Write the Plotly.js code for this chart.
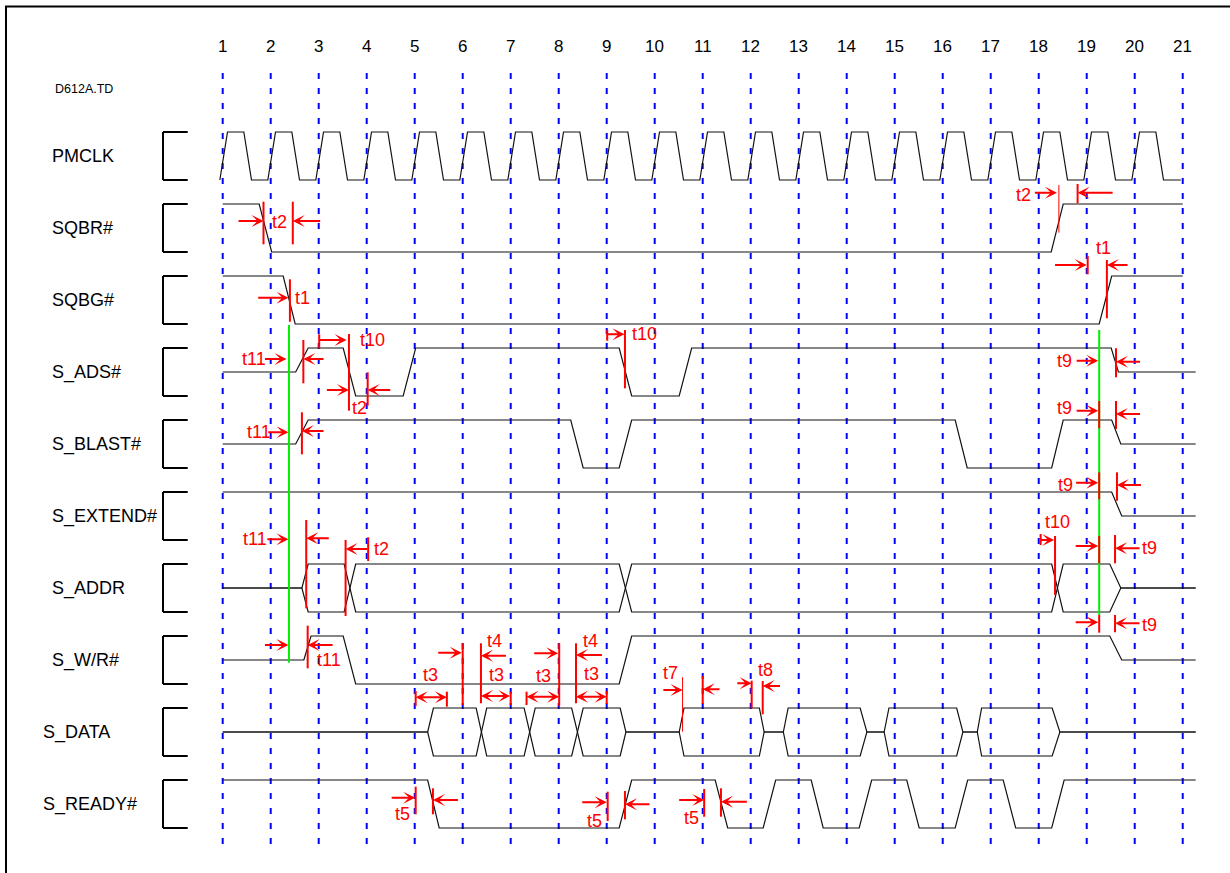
<!DOCTYPE html>
<html>
<head>
<meta charset="utf-8">
<script src="https://cdn.plot.ly/plotly-3.0.1.min.js"></script>
<style>html,body{margin:0;padding:0;background:#fff;}#chart{width:1230px;height:873px;}</style>
</head>
<body>
<div id="chart"></div>
<script>
// ---------- data ----------
const signalNames = ['PMCLK','SQBR#','SQBG#','S_ADS#','S_BLAST#','S_EXTEND#','S_ADDR','S_W/R#','S_DATA','S_READY#'];
const clockTicks  = [1,2,3,4,5,6,7,8,9,10,11,12,13,14,15,16,17,18,19,20,21];
const clockLabels = ['1','2','3','4','5','6','7','8','9','10','11','12','13','14','15','16','17','18','19','20','21'];
const docLabel = 'D612A.TD';

// waveform vertices: time (clock units) and level (1 high, 0 low, 0.5 float)
const pmclkT = [0.94,1.1,1.44,1.6, 1.94,2.1,2.44,2.6, 2.94,3.1,3.44,3.6, 3.94,4.1,4.44,4.6, 4.94,5.1,5.44,5.6,
  5.94,6.1,6.44,6.6, 6.94,7.1,7.44,7.6, 7.94,8.1,8.44,8.6, 8.94,9.1,9.44,9.6, 9.94,10.1,10.44,10.6,
  10.94,11.1,11.44,11.6, 11.94,12.1,12.44,12.6, 12.94,13.1,13.44,13.6, 13.94,14.1,14.44,14.6, 14.94,15.1,15.44,15.6,
  15.94,16.1,16.44,16.6, 16.94,17.1,17.44,17.6, 17.94,18.1,18.44,18.6, 18.94,19.1,19.44,19.6, 19.94,20.1,20.44,20.6, 20.96];
const pmclkL = [0,1,1,0, 0,1,1,0, 0,1,1,0, 0,1,1,0, 0,1,1,0,
  0,1,1,0, 0,1,1,0, 0,1,1,0, 0,1,1,0, 0,1,1,0,
  0,1,1,0, 0,1,1,0, 0,1,1,0, 0,1,1,0, 0,1,1,0,
  0,1,1,0, 0,1,1,0, 0,1,1,0, 0,1,1,0, 0,1,1,0, 0];
const sqbrT = [1,1.76,2.02,18.26,18.51,21];
const sqbrL = [1,1,0,0,1,1];
const sqbgT = [1,2.26,2.51,19.26,19.52,21];
const sqbgL = [1,1,0,0,1,1];
const adsT = [1,2.52,2.78,3.51,3.77,4.76,5.02,9.26,9.52,10.51,10.77,19.51,19.66,21.27];
const adsL = [0.5,0.5,1,1,0,0,1,1,0,0,1,1,0.5,0.5];
const blastT = [1,2.52,2.78,8.25,8.51,9.26,9.52,16.26,16.51,18.27,18.51,19.52,19.71,21.27];
const blastL = [0.5,0.5,1,1,0,0,1,1,0,0,1,1,0.5,0.5];
const extendT = [1,19.52,19.73,21.27];
const extendL = [1,1,0.5,0.5];
const wrT = [1,2.69,2.84,3.51,3.77,9.26,9.52,19.48,19.73,21.27];
const wrL = [0.5,0.5,1,1,0,0,1,1,0.5,0.5];
const readyT = [1,5.27,5.51,9.26,9.52,11.26,11.52,12.26,12.52,13.26,13.51,14.26,14.52,15.25,15.51,16.26,16.52,17.26,17.52,18.27,18.53,21.27];
const readyL = [1,1,0,0,1,1,0,0,1,1,0,0,1,1,0,0,1,1,0,0,1,1];
// buses: one outline edge; the other edge mirrors it
const addrT = [1,2.65,2.78,3.53,3.77,9.26,9.52,18.27,18.51,19.48,19.71,21.27];
const addrL = [0.5,0.5,1,1,0,0,1,1,0,0,0.5,0.5];
const dataT = [1,5.27,5.39,6.28,6.5,7.28,7.51,8.27,8.51,9.28,9.4,10.51,10.61,12.18,12.28,12.68,12.78,14.28,14.42,14.78,14.88,16.29,16.42,16.72,16.81,18.28,18.44,21.27];
const dataL = [0.5,0.5,1,1,0,0,1,1,0,0,0.5,0.5,1,1,0.5,0.5,1,1,0.5,0.5,1,1,0.5,0.5,1,1,0.5,0.5];

// timing markers (time, y from, y to)
const markerLines = [
  [1.85,-0.452,-1.340],[2.46,-0.452,-1.340],[18.42,-0.104,-1.098],[18.81,-0.083,-0.485],
  [2.40,-2.069,-2.952],[19.02,-1.583,-1.965],[19.42,-1.667,-2.881],
  [2.68,-3.333,-4.235],[3.01,-3.215,-3.506],[3.63,-3.208,-4.806],[4.02,-4.006,-4.702],
  [9.01,-3.125,-3.348],[9.38,-3.125,-4.340],[19.61,-3.506,-4.110],
  [2.65,-4.840,-5.715],[19.26,-4.604,-5.173],[19.61,-4.604,-5.188],
  [19.26,-6.090,-6.652],[19.63,-6.090,-6.681],
  [2.74,-7.083,-8.923],[3.56,-7.5,-9.083],[4.03,-7.444,-7.938],[18.04,-7.375,-7.604],
  [18.34,-7.417,-8.646],[19.26,-7.417,-7.985],[19.59,-7.396,-7.985],
  [2.77,-9.285,-10.173],[6.0,-9.652,-10.938],[6.38,-9.652,-10.902],[8.01,-9.652,-10.958],
  [8.36,-9.652,-10.902],[19.26,-9.063,-9.431],[19.59,-9.063,-9.423],
  [5.02,-10.646,-10.958],[5.67,-10.660,-10.973],[7.0,-10.660,-10.938],[7.33,-10.660,-10.938],
  [9.0,-10.646,-10.917],[10.58,-10.360,-11.494],[11.0,-10.333,-10.917],[12.02,-10.431,-11.006],
  [12.25,-10.438,-11.131],
  [5.02,-12.640,-13.215],[5.38,-12.673,-13.215],[9.02,-12.744,-13.354],[9.38,-12.729,-13.319],
  [11.03,-12.688,-13.265],[11.38,-12.673,-13.265]
];
const thinMarkerTimes = [18.42,10.58];
// arrows (tail time, head time, y)
const markerArrows = [
  [1.33,1.85,-0.854],[3.03,2.46,-0.854],[17.92,18.38,-0.265],[19.54,18.81,-0.265],
  [1.74,2.37,-2.452],[18.34,19.0,-1.771],[19.85,19.42,-1.771],
  [1.88,2.33,-3.729],[3.10,2.68,-3.729],[3.01,3.58,-3.333],[3.17,3.63,-4.375],[4.49,4.02,-4.375],
  [9.01,9.37,-3.215],[18.79,19.24,-3.765],[20.11,19.61,-3.785],
  [1.95,2.37,-5.256],[3.10,2.65,-5.229],[18.79,19.24,-4.806],[20.11,19.61,-4.875],
  [18.78,19.24,-6.306],[20.13,19.63,-6.354],
  [1.93,2.37,-7.485],[3.21,2.74,-7.465],[4.01,3.56,-7.688],[18.04,18.32,-7.5],
  [18.77,19.24,-7.625],[20.10,19.59,-7.673],
  [1.88,2.37,-9.69],[3.29,2.77,-9.69],[5.49,5.98,-9.848],[6.90,6.38,-9.910],
  [7.49,7.99,-9.860],[8.90,8.36,-9.896],[18.77,19.24,-9.215],[20.10,19.59,-9.235],
  [10.18,10.58,-10.625],[11.35,11.0,-10.610],[11.72,12.02,-10.485],[12.61,12.25,-10.542],
  [4.52,5.01,-12.869],[5.90,5.38,-12.917],[8.49,9.0,-12.965],[9.89,9.38,-13.006],
  [10.51,11.03,-12.917],[11.92,11.38,-12.952]
];
const markerSpans = [[5.02,5.67,-10.777],[6.38,6.99,-10.75],[7.33,8.01,-10.765],[8.36,9.0,-10.765]];
const markerLabels = [
  ['t2',2.02,-0.875],['t2',17.52,-0.3125],['t1',2.51,-2.458],['t1',19.19,-1.423],
  ['t11',1.40,-3.729],['t10',3.86,-3.333],['t2',3.69,-4.756],['t10',9.52,-3.215],['t9',18.39,-3.765],
  ['t11',1.5,-5.256],['t9',18.39,-4.756],['t9',18.41,-6.354],
  ['t11',1.43,-7.485],['t2',4.16,-7.688],['t10',18.13,-7.119],['t9',20.15,-7.673],
  ['t11',2.96,-10.0],['t4',6.51,-9.598],['t4',8.51,-9.598],['t9',20.15,-9.271],
  ['t3',5.18,-10.3125],['t3',6.55,-10.3125],['t3',7.52,-10.333],['t3',8.53,-10.292],
  ['t7',10.18,-10.277],['t8',12.16,-10.208],
  ['t5',4.59,-13.215],['t5',8.58,-13.354],['t5',10.60,-13.298]
];
const referenceLines = [[2.38,-3.021,-10.056],[19.26,-3.125,-9.063]];

// ---------- layout constants ----------
const ROW_PITCH = 1.5;
const FONT = 'Liberation Sans, Arial, Helvetica, sans-serif';
const rowY = (row, lvl) => lvl - ROW_PITCH * row;

const waves = [
  {row:0, t:pmclkT, l:pmclkL}, {row:1, t:sqbrT, l:sqbrL}, {row:2, t:sqbgT, l:sqbgL},
  {row:3, t:adsT, l:adsL}, {row:4, t:blastT, l:blastL}, {row:5, t:extendT, l:extendL},
  {row:7, t:wrT, l:wrL}, {row:9, t:readyT, l:readyL}
];
const buses = [{row:6, t:addrT, l:addrL}, {row:8, t:dataT, l:dataL}];

const traces = [];
const lineStyle = {color:'#111', width:1.2};
waves.forEach(w => traces.push({x:w.t, y:w.l.map(v=>rowY(w.row,v)), mode:'lines', line:lineStyle, hoverinfo:'skip', showlegend:false}));
buses.forEach(b => {
  traces.push({x:b.t, y:b.l.map(v=>rowY(b.row,v)), mode:'lines', line:lineStyle, hoverinfo:'skip', showlegend:false});
  traces.push({x:b.t, y:b.l.map(v=>rowY(b.row,1-v)), mode:'lines', line:lineStyle, hoverinfo:'skip', showlegend:false});
});

const shapes = [];
// frame
shapes.push({type:'rect', xref:'paper', yref:'paper', x0:6/1230, x1:1.05, y0:-0.05, y1:1-6.5/873, line:{color:'#000', width:2}, layer:'below'});
// clock grid
clockTicks.forEach(c => shapes.push({type:'line', x0:c, x1:c, y0:2.229, y1:-14.006, line:{color:'#0000ff', width:2, dash:'6px,9px'}, layer:'below'}));
// row brackets
signalNames.forEach((n,k) => {
  const hi = rowY(k,1), lo = rowY(k,0);
  shapes.push({type:'line', x0:-0.244, x1:-0.244, y0:hi, y1:lo, line:{color:'#000', width:2}});
  shapes.push({type:'line', x0:-0.244, x1:0.271, y0:hi, y1:hi, line:{color:'#000', width:2}});
  shapes.push({type:'line', x0:-0.244, x1:0.271, y0:lo, y1:lo, line:{color:'#000', width:2}});
});
referenceLines.forEach(g => shapes.push({type:'line', x0:g[0], x1:g[0], y0:g[1], y1:g[2], line:{color:'#00ee00', width:2}}));
markerLines.forEach(m => shapes.push({type:'line', x0:m[0], x1:m[0], y0:m[1], y1:m[2],
  line:{color:'#ff0000', width: thinMarkerTimes.includes(m[0]) ? 1 : 2}}));

const ann = [];
clockTicks.forEach((c,i) => ann.push({x:c, y:2.771, text:clockLabels[i], showarrow:false, xanchor:'center', yanchor:'middle',
  font:{family:FONT, size:17, color:'#000'}, borderpad:0, borderwidth:0}));
ann.push({x:-2.494, y:1.896, text:docLabel, showarrow:false, xanchor:'left', yanchor:'middle', font:{family:FONT, size:12.5, color:'#000'}, borderpad:0, borderwidth:0});
signalNames.forEach((n,k) => ann.push({x: k>=8 ? -2.744 : -2.556, y:rowY(k,0.5), text:n, showarrow:false, xanchor:'left', yanchor:'middle',
  font:{family:FONT, size:18, color:'#000'}, borderpad:0, borderwidth:0}));
markerLabels.forEach(m => ann.push({x:m[1], y:m[2], text:m[0], showarrow:false, xanchor:'left', yanchor:'middle',
  font:{family:FONT, size:18, color:'#ff0000'}, borderpad:0, borderwidth:0}));
const arrowBase = {xref:'x', yref:'y', axref:'x', ayref:'y', text:'', showarrow:true, arrowhead:3, arrowsize:1, arrowwidth:2,
  arrowcolor:'#ff0000', standoff:0, startstandoff:0, font:{size:1}, borderpad:0, borderwidth:0};
markerArrows.forEach(a => ann.push(Object.assign({}, arrowBase, {x:a[1], y:a[2], ax:a[0], ay:a[2]})));
markerSpans.forEach(a => ann.push(Object.assign({}, arrowBase, {x:a[1], y:a[2], ax:a[0], ay:a[2], arrowside:'end+start', startarrowhead:3, startarrowsize:1})));

const layout = {
  width:1230, height:873, autosize:false,
  margin:{l:0, r:0, t:0, b:0, pad:0},
  paper_bgcolor:'#fff', plot_bgcolor:'#fff',
  xaxis:{range:[-3.6396, 21.985], visible:false, fixedrange:true},
  yaxis:{range:[-14.4375, 3.75], visible:false, fixedrange:true},
  shapes:shapes, annotations:ann, showlegend:false
};
Plotly.newPlot('chart', traces, layout, {staticPlot:true, displayModeBar:false});
</script>
</body>
</html>
